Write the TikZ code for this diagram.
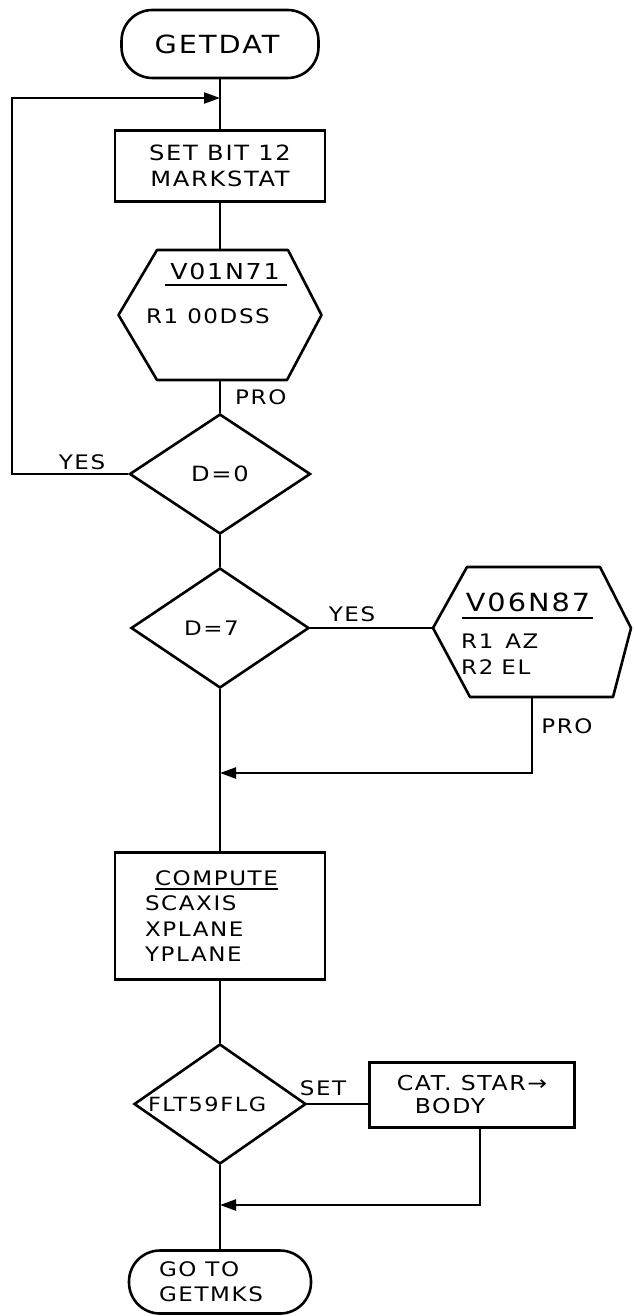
\documentclass[tikz,border=0pt]{standalone}
\usepackage{fontspec}
\setmainfont{DejaVu Sans}[FakeStretch=1.15,LetterSpace=8]
\usetikzlibrary{shapes.geometric,arrows.meta,calc}
\newcommand\myul[1]{\setbox0\hbox{#1}\rlap{\rule[-5pt]{\wd0}{2.4pt}}\box0}
\tikzset{
  shp/.style={draw, line width=2.6pt},
  term/.style={shp, rectangle, rounded corners=31pt, inner sep=0pt},
  proc/.style={shp, rectangle, inner sep=0pt},
  dec/.style={shp, diamond, aspect=1.5, inner sep=0pt},
  ph/.style={rectangle, inner sep=0pt},
  lbl/.style={inner sep=0pt, font=\fontsize{20}{22}\selectfont},
  txt/.style={inner sep=0pt, font=\fontsize{20}{22}\selectfont},
  conn/.style={line width=2.2pt},
  arr/.style={conn, -{Triangle[length=16pt,width=11pt]}},
}
\begin{document}
\begin{tikzpicture}[x=1pt,y=-1pt]
\useasboundingbox (0,0) rectangle (633,1316);
\fill[white] (0,0) rectangle (633,1316);

% start terminal
\node[term, minimum width=197pt, minimum height=68pt, font=\fontsize{25}{28}\selectfont] (start) at (220,44) {GETDAT\hspace*{6pt}};

% set bit box
\node[proc, minimum width=210pt, minimum height=71pt, align=center, font=\fontsize{21}{26}\selectfont] (setbit) at (220,166) {SET BIT 12\\MARKSTAT};

% hexagon 1
\node[ph, minimum width=203pt, minimum height=130pt] (hex1) at (220,315) {};
\draw[shp, line join=round] (118.5,315) -- (157,250) -- (288,250) -- (321.5,315) -- (287,380) -- (157,380) -- cycle;
\node[txt, font=\fontsize{22}{24}\selectfont] (hex1a) at (225,271) {V01N71};
\node[txt] (hex1b) at (208,316) {R1 00DSS};
\draw[line width=2.4pt] (165,285) -- (287,285);
\node[lbl, anchor=west] (pro1) at (235,397) {PRO};

% decision D=0
\node[dec, minimum width=181pt, minimum height=120pt, font=\fontsize{21}{22}\selectfont] (d0) at (220,474) {D=0};
\node[lbl] (yes1) at (82,462) {YES};

% decision D=7
\node[dec, minimum width=178pt, minimum height=120pt, font=\fontsize{20}{22}\selectfont] (d7) at (220,628) {\makebox[60pt][l]{\hspace*{-6pt}D=7}};
\node[lbl] (yes2) at (352,614) {YES};

% hexagon 2
\node[ph, minimum width=198pt, minimum height=130pt] (hex2) at (532,632) {};
\draw[shp, line join=round] (433,628) -- (467,567) -- (600,567) -- (631,628) -- (613,697) -- (470,697) -- cycle;
\node[txt, font=\fontsize{25}{26}\selectfont] (hex2a) at (528,602) {V06N87};
\draw[line width=2.4pt] (462,618) -- (593,618);
\node[txt, anchor=west] (hex2b) at (461,641) {R1\hspace{12pt}AZ};
\node[txt, anchor=west] (hex2c) at (461,667) {R2\hspace{8pt}EL};
\node[lbl] (pro2) at (567,726) {PRO};

% compute box
\node[proc, minimum width=210pt, minimum height=127pt, text width=150pt, align=left, font=\fontsize{20}{25.5}\selectfont] (compute) at (220,916) {\hspace*{10pt}\myul{COMPUTE}\\SCAXIS\\XPLANE\\YPLANE};

% decision FLT59FLG
\node[dec, minimum width=172pt, minimum height=120pt, font=\fontsize{19.5}{22}\selectfont] (d59) at (220,1104) {\makebox[124pt][l]{\hspace*{-10pt}FLT59FLG}};
\node[lbl] (set) at (323,1088) {SET};

% cat star box
\node[proc, minimum width=205pt, minimum height=65pt, align=left, font=\fontsize{20.5}{23}\selectfont] (cat) at (472,1095) {CAT. STAR→\\\hspace*{18pt}BODY};

% end terminal
\node[term, minimum width=182pt, minimum height=63pt, align=left, font=\fontsize{20}{25}\selectfont] (end) at (220,1282) {GO TO\\GETMKS\hspace*{18pt}};

% merge points
\coordinate (m1) at (220,98);
\coordinate (lp) at (12,98);
\coordinate (m2) at (220,773);
\coordinate (m3) at (220,1205);

% connectors
\draw[conn] (start) -- (setbit);
\draw[conn] (setbit) -- (hex1);
\draw[conn] (hex1) -- (d0);
\draw[arr] (d0.west) -| (lp) -- (m1);
\draw[conn] (d0) -- (d7);
\draw[conn] (d7.east) -- (d7.east -| hex2.west);
\draw[arr] (hex2.south) |- (m2);
\draw[conn] (d7) -- (compute);
\draw[conn] (compute) -- (d59);
\draw[conn] (d59.east) -- (d59.east -| cat.west);
\draw[arr] ($(cat.south)+(8,0)$) |- (m3);
\draw[conn] (d59) -- (end);
\end{tikzpicture}
\end{document}
